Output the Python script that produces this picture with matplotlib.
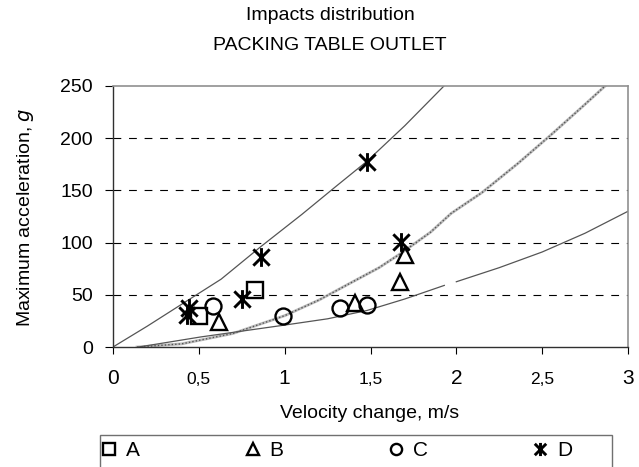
import matplotlib; matplotlib.use('Agg')
import numpy as np
import matplotlib.pyplot as plt
from matplotlib.path import Path
from matplotlib.patches import Rectangle

plt.rcParams['font.family'] = ['Liberation Sans', 'DejaVu Sans']

# --- measured impacts ---
a_x = [0.50, 0.83]
a_y = [30, 55]
b_x = [0.62, 1.41, 1.67, 1.70]
b_y = [24, 42, 62, 88]
c_x = [0.58, 0.99, 1.32, 1.48]
c_y = [39, 30, 37, 40]
d_x = [0.43, 0.44, 0.75, 0.86, 1.48, 1.68]
d_y = [31, 37, 46, 86, 177, 101]

# --- limit curves ---
upper_x = [0, 0.2, 0.41, 0.63, 0.86, 1.1, 1.3, 1.48, 1.7, 1.94]
upper_y = [0, 20, 42, 65, 96, 127, 154, 178, 212, 252]
mid_x = [0.14, 0.4, 0.7, 1.0, 1.2, 1.38, 1.55, 1.68, 1.85, 1.97, 2.15, 2.36, 2.55, 2.74, 2.88]
mid_y = [0, 3, 13, 30, 45, 61, 76, 90, 110, 128, 148, 176, 203, 231, 252]
low1_x = [0.15, 0.51, 1.0, 1.25, 1.48, 1.7, 1.93]
low1_y = [0, 9.6, 21, 27, 35, 46, 59]
low2_x = [2.0, 2.25, 2.5, 2.75, 3.0]
low2_y = [62.5, 76, 91, 109, 130]

x_ticks = [0, 0.5, 1, 1.5, 2, 2.5, 3]
x_ticklabels = ['0', '0,5', '1', '1,5', '2', '2,5', '3']
y_ticks = [0, 50, 100, 150, 200, 250]

W, H = 639, 467
star = Path([(-1, -1), (1, 1), (-1, 1), (1, -1), (0, -1.15), (0, 1.15)],
            [Path.MOVETO, Path.LINETO, Path.MOVETO, Path.LINETO, Path.MOVETO, Path.LINETO])

fig = plt.figure(figsize=(W/100, H/100), dpi=100)
ax = fig.add_axes([113/W, 1 - 347/H, 515/W, 261/H])

for y in y_ticks[1:-1]:
    ax.axhline(y, color='black', lw=0.8, ls=(0, (7, 7)), zorder=1)

ax.plot(upper_x, upper_y, color='#555555', lw=0.9, zorder=2)
ax.plot(mid_x, mid_y, color='#bbbbbb', lw=2.0, zorder=2)
ax.plot(mid_x, mid_y, color='#555555', lw=1.0, ls=(0, (1, 1.5)), zorder=2)
ax.plot(low1_x, low1_y, color='#555555', lw=0.9, zorder=2)
ax.plot(low2_x, low2_y, color='#555555', lw=0.9, zorder=2)

mk = dict(ls='none', mfc='none', mec='black', mew=1.7, zorder=3, clip_on=False)
ax.plot(a_x, a_y, marker='s', ms=11.5, label='A', **mk)
ax.plot(b_x, b_y, marker='^', ms=11.5, label='B', **mk)
ax.plot(c_x, c_y, marker='o', ms=11.5, label='C', **mk)
ax.plot(d_x, d_y, marker=star, ms=13.5, label='D', **{**mk, 'mew': 2.1})

ax.set_xlim(0, 3)
ax.set_ylim(0, 250)
ax.set_xticks(x_ticks)
ax.set_xticklabels(x_ticklabels, va='baseline')
for lab, t in zip(ax.get_xticklabels(), x_ticklabels):
    lab.set_fontsize(12.5 if ',' in t else 15)
ax.set_yticks(y_ticks)
ax.tick_params(axis='y', labelsize=14, direction='out', length=5.5, width=0.8, pad=9)
ax.tick_params(axis='x', direction='out', length=5, width=0.8, pad=22)

for s in ['top', 'right']:
    ax.spines[s].set_color('#909090')
    ax.spines[s].set_linewidth(1.2)
for s in ['left', 'bottom']:
    ax.spines[s].set_color('#303030')
    ax.spines[s].set_linewidth(1.0)

fig.text(370/W, 1 - 414/H, 'Velocity change, m/s', ha='center', va='center', fontsize=14)
fig.text(26/W, 1 - 217/H, 'Maximum acceleration, $\\it{g}$', ha='center', va='center',
         rotation=90, fontsize=14)

fig.text(330/W, 1 - 16/H, 'Impacts distribution', ha='center', va='center', fontsize=14)
fig.text(330/W, 1 - 45/H, 'PACKING TABLE OUTLET', ha='center', va='center', fontsize=14)

fig.patches.append(Rectangle((100/W, -0.02), 512/W, 0.02 + 1 - 435/H, transform=fig.transFigure,
                             fill=False, edgecolor='#707070', lw=1.0))
leg = fig.legend(loc='center left', bbox_to_anchor=(102/W, 1 - 451/H, 470/W, 0),
                 ncol=4, mode='expand', borderaxespad=0, fontsize=15,
                 markerscale=0.7, handlelength=0.7, handletextpad=0.45,
                 frameon=False, borderpad=0)

fig.savefig('out.png', dpi=100)
